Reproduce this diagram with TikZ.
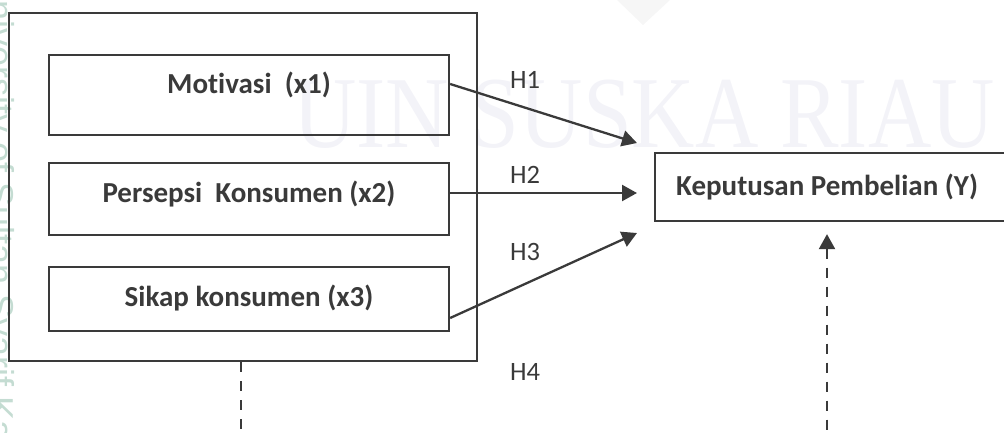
\documentclass[tikz,border=0pt]{standalone}
\usepackage{fontspec}
\setmainfont{Carlito}[RawFeature=-liga]
\newfontfamily\wmserif{Liberation Serif}
\newfontfamily\wmsans{Liberation Sans}
\usetikzlibrary{arrows.meta}
\definecolor{ink}{HTML}{3A3A3A}
\definecolor{wmblue}{HTML}{F3F3F8}
\definecolor{wmgreen}{HTML}{C4DCD2}
\definecolor{wmgrey}{HTML}{F6F6F6}

\begin{document}
\begin{tikzpicture}[x=1pt,y=-1pt,
  frame/.style={draw=ink, line width=2.3pt, inner sep=0pt},
  var/.style={font=\fontsize{29}{34}\selectfont\bfseries, text=ink, inner sep=0pt},
  hyp/.style={font=\fontsize{26.5}{30}\selectfont, text=ink, inner sep=0pt, anchor=base west},
  link/.style={draw=ink, line width=2.3pt, -{Triangle[length=15pt,width=16pt]}},
  guide/.style={draw=ink, line width=2.3pt, dash pattern=on 10pt off 9pt},
  tipdash/.style={guide, {Triangle[length=15pt,width=16pt]}-},
]
\useasboundingbox (0,0) rectangle (1004,432);

% background watermark
\node[font=\wmserif\fontsize{102}{104}\selectfont, text=wmblue, anchor=base west, inner sep=0pt, xscale=0.86]
  (wm) at (293,147) {UIN SUSKA RIAU};
\fill[wmgrey] (617,0) -- (670,0) -- (643,25) -- cycle;
\node[font=\wmsans\fontsize{36}{40}\selectfont, text=wmgreen, rotate=-90, anchor=base west, inner sep=0pt]
  (side) at (-12,-26) {University of Sultan Syarif Kasim Riau};

% boxes
\node[frame, minimum width=468pt, minimum height=348pt] (outer) at (243,187) {};
\node[frame, minimum width=400pt, minimum height=80pt] (mot) at (249,95) {};
\node[frame, minimum width=400pt, minimum height=72pt] (per) at (249,199) {};
\node[frame, minimum width=400pt, minimum height=64pt] (sik) at (249,299) {};
\node[frame, minimum width=355pt, minimum height=68pt] (kep) at (832.5,187) {};

% box labels
\node[var, anchor=base] (motT) at (249,93) {Motivasi\ \ (x1)};
\node[var, anchor=base] (perT) at (249,202) {Persepsi\ \ Konsumen (x2)};
\node[var, anchor=base] (sikT) at (249,306) {Sikap konsumen (x3)};
\node[var, anchor=base west] (kepT) at (676,195) {Keputusan Pembelian (Y)};

% hypothesis labels
\node[hyp] (h1) at (510,88) {H1};
\node[hyp] (h2) at (510,183) {H2};
\node[hyp] (h3) at (510,260) {H3};
\node[hyp] (h4) at (510,380) {H4};

% arrow ends
\coordinate (t1) at (637,143);
\coordinate (t2) at (637,193);
\coordinate (t3) at (637,233);
\coordinate (dl) at (241,436);
\coordinate (dr) at (827,436);
\coordinate (ytip) at ([yshift=-12pt]kep.south);

% connectors
\draw[link] ([yshift=11pt]mot.east) -- (t1);
\draw[link] ([yshift=6pt]per.east) -- (t2);
\draw[link] ([yshift=-19pt]sik.east) -- (t3);
\draw[guide] ([xshift=-2pt]outer.south) -- (dl);
\draw[tipdash] (dr |- ytip) -- (dr);
\end{tikzpicture}
\end{document}
